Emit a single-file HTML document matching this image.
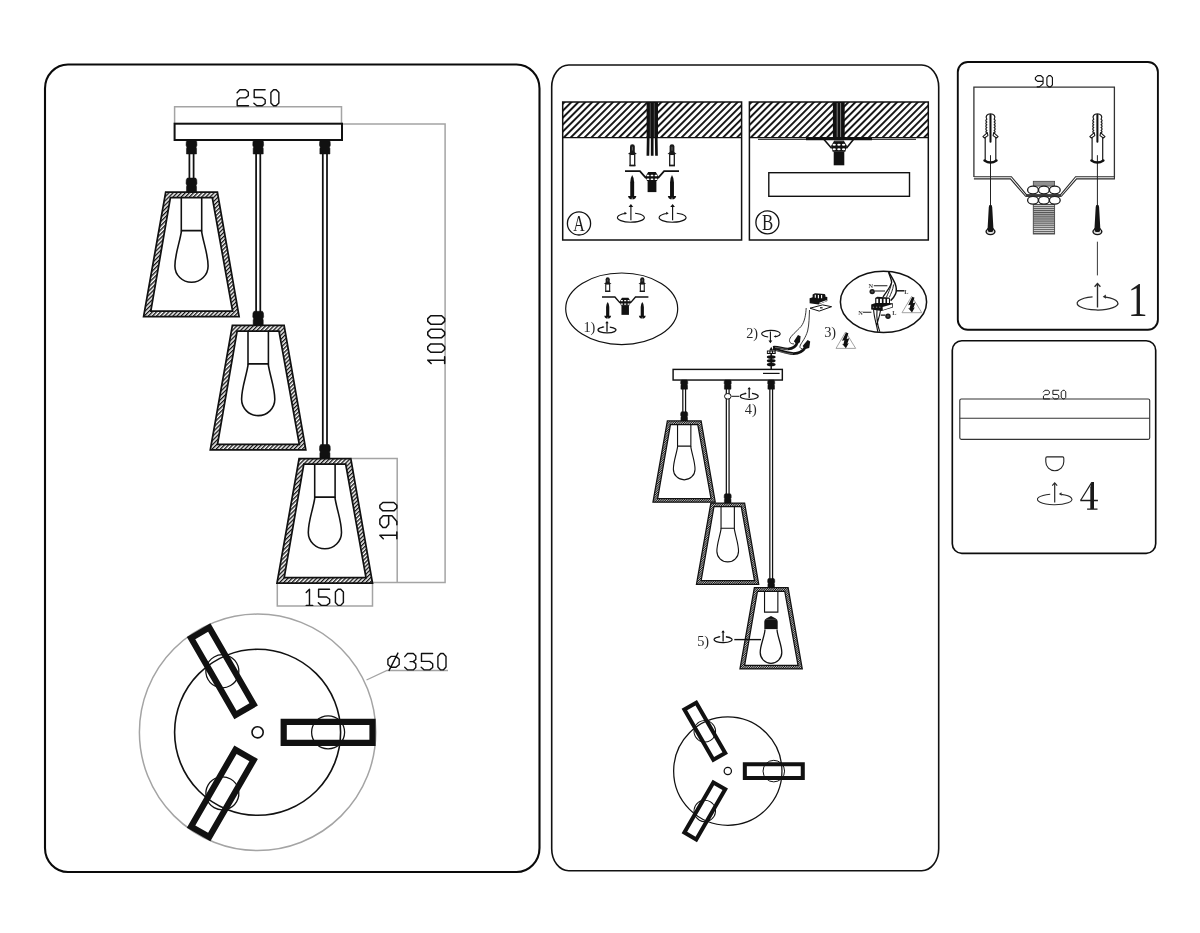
<!DOCTYPE html>
<html><head><meta charset="utf-8"><title>Pendant lamp assembly</title>
<style>
html,body{margin:0;padding:0;background:#fff;}
body{width:1200px;height:933px;overflow:hidden;font-family:"Liberation Sans",sans-serif;}
svg{display:block;will-change:transform;}
.cad{font-family:"Liberation Sans",sans-serif;fill:#111;}
.ser{font-family:"Liberation Serif",serif;fill:#1c1c1c;}
.lb{fill:#2a2a2a;}
</style></head><body>
<svg width="1200" height="933" viewBox="0 0 1200 933">
<defs>
<pattern id="h1" width="2.9" height="2.9" patternUnits="userSpaceOnUse" patternTransform="rotate(-45)"><rect width="2.9" height="2.9" fill="#fff"/><rect width="2.9" height="1.35" fill="#111"/></pattern>
<pattern id="h2" width="1.6" height="1.6" patternUnits="userSpaceOnUse" patternTransform="rotate(-45)"><rect width="1.6" height="1.6" fill="#fff"/><rect width="1.6" height="1.0" fill="#111"/></pattern>
<pattern id="hc" width="4.9" height="4.9" patternUnits="userSpaceOnUse" patternTransform="rotate(-45)"><rect width="4.9" height="4.9" fill="#fff"/><rect width="4.9" height="1.9" fill="#111"/></pattern>
<pattern id="thr" width="2" height="2.08" patternUnits="userSpaceOnUse"><rect width="2" height="2.08" fill="#d4d4d4"/><rect width="2" height="1.15" fill="#555"/></pattern>
</defs>
<rect width="1200" height="933" fill="#fff"/>

<rect x="45" y="64.5" width="494.5" height="807.5" rx="23" ry="24" fill="none" stroke="#0a0a0a" stroke-width="2.1"/>
<rect x="551.7" y="65" width="387.0" height="805.8" rx="17" ry="22" fill="none" stroke="#111" stroke-width="1.6"/>
<rect x="957.8" y="62" width="200.1" height="267.8" rx="10" ry="10" fill="none" stroke="#0c0c0c" stroke-width="1.9"/>
<rect x="952.3" y="340.7" width="203.4" height="212.6" rx="9.5" ry="9.5" fill="none" stroke="#0c0c0c" stroke-width="1.65"/>
<path d="M174.6 124 V106.7 H341.5 V124 M342 124 H445.1 V582.5 H372 M350.5 458.5 H397.2 V582.5 M277.3 583 V606 H372.5 V583" fill="none" stroke="#a4a4a4" stroke-width="1.5"/>
<rect x="174.60" y="123.70" width="167.40" height="16.30" fill="#fff" stroke="#111" stroke-width="2.01"/>
<path d="M187.30 140.00 L195.70 140.00 L196.75 141.68 L196.96 145.32 L196.12 147.28 L196.54 148.40 L196.54 154.00 L186.46 154.00 L186.46 148.40 L186.88 147.28 L186.04 145.32 L186.25 141.68Z" fill="#111" stroke="#111" stroke-width="0.5" stroke-linejoin="round"/>
<path d="M189.40 153.00 V179.00 M193.60 153.00 V179.00" stroke="#111" stroke-width="1.75" fill="none"/>
<path d="M187.30 178.00 L195.70 178.00 L196.75 179.74 L196.96 183.51 L196.12 185.54 L196.54 186.70 L196.54 192.50 L186.46 192.50 L186.46 186.70 L186.88 185.54 L186.04 183.51 L186.25 179.74Z" fill="#111" stroke="#111" stroke-width="0.5" stroke-linejoin="round"/>
<path d="M165.70 192.00 L217.40 192.00 L239.10 316.60 L143.60 316.60Z M170.40 197.70 L212.30 197.70 L232.60 311.10 L150.80 311.10Z" fill="url(#h1)" fill-rule="evenodd" stroke="#111" stroke-width="1.75" stroke-linejoin="miter"/>
<path d="M181.30 197.70 V230.60 H201.70 V197.70" fill="none" stroke="#111" stroke-width="1.57"/>
<path d="M181.50 230.60 C180.00 242.00 174.90 254.00 174.90 266.00 A16.60 16.30 0 0 0 208.10 266.00 C208.10 254.00 203.00 242.00 201.50 230.60" fill="none" stroke="#111" stroke-width="1.57"/>
<path d="M254.00 140.00 L262.40 140.00 L263.45 141.68 L263.66 145.32 L262.82 147.28 L263.24 148.40 L263.24 154.00 L253.16 154.00 L253.16 148.40 L253.58 147.28 L252.74 145.32 L252.95 141.68Z" fill="#111" stroke="#111" stroke-width="0.5" stroke-linejoin="round"/>
<path d="M256.10 153.00 V312.30 M260.30 153.00 V312.30" stroke="#111" stroke-width="1.75" fill="none"/>
<path d="M254.00 311.30 L262.40 311.30 L263.45 313.04 L263.66 316.81 L262.82 318.84 L263.24 320.00 L263.24 325.80 L253.16 325.80 L253.16 320.00 L253.58 318.84 L252.74 316.81 L252.95 313.04Z" fill="#111" stroke="#111" stroke-width="0.5" stroke-linejoin="round"/>
<path d="M232.40 325.30 L284.10 325.30 L305.80 449.90 L210.30 449.90Z M237.10 331.00 L279.00 331.00 L299.30 444.40 L217.50 444.40Z" fill="url(#h1)" fill-rule="evenodd" stroke="#111" stroke-width="1.75" stroke-linejoin="miter"/>
<path d="M248.00 331.00 V363.90 H268.40 V331.00" fill="none" stroke="#111" stroke-width="1.57"/>
<path d="M248.20 363.90 C246.70 375.30 241.60 387.30 241.60 399.30 A16.60 16.30 0 0 0 274.80 399.30 C274.80 387.30 269.70 375.30 268.20 363.90" fill="none" stroke="#111" stroke-width="1.57"/>
<path d="M320.70 140.00 L329.10 140.00 L330.15 141.68 L330.36 145.32 L329.52 147.28 L329.94 148.40 L329.94 154.00 L319.86 154.00 L319.86 148.40 L320.28 147.28 L319.44 145.32 L319.65 141.68Z" fill="#111" stroke="#111" stroke-width="0.5" stroke-linejoin="round"/>
<path d="M322.80 153.00 V445.50 M327.00 153.00 V445.50" stroke="#111" stroke-width="1.75" fill="none"/>
<path d="M320.70 444.50 L329.10 444.50 L330.15 446.24 L330.36 450.01 L329.52 452.04 L329.94 453.20 L329.94 459.00 L319.86 459.00 L319.86 453.20 L320.28 452.04 L319.44 450.01 L319.65 446.24Z" fill="#111" stroke="#111" stroke-width="0.5" stroke-linejoin="round"/>
<path d="M299.10 458.50 L350.80 458.50 L372.50 583.10 L277.00 583.10Z M303.80 464.20 L345.70 464.20 L366.00 577.60 L284.20 577.60Z" fill="url(#h1)" fill-rule="evenodd" stroke="#111" stroke-width="1.75" stroke-linejoin="miter"/>
<path d="M314.70 464.20 V497.10 H335.10 V464.20" fill="none" stroke="#111" stroke-width="1.57"/>
<path d="M314.90 497.10 C313.40 508.50 308.30 520.50 308.30 532.50 A16.60 16.30 0 0 0 341.50 532.50 C341.50 520.50 336.40 508.50 334.90 497.10" fill="none" stroke="#111" stroke-width="1.57"/>
<circle cx="257.60" cy="732.30" r="118.20" fill="none" stroke="#a4a4a4" stroke-width="1.5"/>
<circle cx="257.60" cy="732.30" r="83.00" fill="none" stroke="#111" stroke-width="1.60"/>
<circle cx="257.60" cy="732.30" r="5.60" fill="#fff" stroke="#111" stroke-width="1.60"/>
<g transform="rotate(0 257.60 732.30)">
<circle cx="328.10" cy="732.30" r="16.50" fill="none" stroke="#111" stroke-width="1.28"/>
<path d="M280.60 718.70 H375.60 V745.90 H280.60 Z M286.80 724.90 H369.40 V739.70 H286.80 Z" fill="#111" fill-rule="evenodd"/>
</g>
<g transform="rotate(120 257.60 732.30)">
<circle cx="328.10" cy="732.30" r="16.50" fill="none" stroke="#111" stroke-width="1.28"/>
<path d="M280.60 718.70 H375.60 V745.90 H280.60 Z M286.80 724.90 H369.40 V739.70 H286.80 Z" fill="#111" fill-rule="evenodd"/>
</g>
<g transform="rotate(240 257.60 732.30)">
<circle cx="328.10" cy="732.30" r="16.50" fill="none" stroke="#111" stroke-width="1.28"/>
<path d="M280.60 718.70 H375.60 V745.90 H280.60 Z M286.80 724.90 H369.40 V739.70 H286.80 Z" fill="#111" fill-rule="evenodd"/>
</g>
<path d="M366.5 680 L387 670.5 H448" fill="none" stroke="#a4a4a4" stroke-width="1.3"/>
<path d="M237.10 92.84L239.95 89.70L245.64 89.70L248.29 91.96L248.29 95.69L245.64 97.85L239.95 97.85L237.20 100.50L237.20 105.80L248.49 105.80 M265.09 89.70L254.20 89.70L254.20 97.46L262.25 97.46L265.19 99.71L265.19 103.44L262.25 105.80L256.85 105.80L253.90 103.15 M270.90 92.55L273.55 89.70L276.20 89.70L278.85 92.55L278.85 102.95L276.20 105.80L273.55 105.80L270.90 102.95Z" fill="none" stroke="#111" stroke-width="1.40" stroke-linejoin="round" stroke-linecap="round"/>
<path d="M306.23 592.47L309.47 589.23L309.47 605.38 M306.23 605.38L312.72 605.38 M329.54 589.23L318.61 589.23L318.61 597.00L326.68 597.00L329.64 599.27L329.64 603.01L326.68 605.38L321.26 605.38L318.31 602.72 M335.42 592.08L338.08 589.23L340.74 589.23L343.39 592.08L343.39 602.52L340.74 605.38L338.08 605.38L335.42 602.52Z" fill="none" stroke="#111" stroke-width="1.45" stroke-linejoin="round" stroke-linecap="round"/>
<path d="M431.15 363.55L427.75 360.15L444.65 360.15 M444.65 363.55L444.65 356.75 M430.74 352.25L427.75 349.47L427.75 346.69L430.74 343.90L441.66 343.90L444.65 346.69L444.65 349.47L441.66 352.25Z M430.74 337.65L427.75 334.87L427.75 332.09L430.74 329.30L441.66 329.30L444.65 332.09L444.65 334.87L441.66 337.65Z M430.74 324.15L427.75 321.37L427.75 318.59L430.74 315.80L441.66 315.80L444.65 318.59L444.65 321.37L441.66 324.15Z" fill="none" stroke="#111" stroke-width="1.50" stroke-linejoin="round" stroke-linecap="round"/>
<path d="M383.27 538.75L379.85 535.33L396.85 535.33 M396.85 538.75L396.85 531.91 M388.66 515.84L388.66 524.18L385.86 527.45L382.86 527.45L379.85 524.03L379.85 519.16L383.12 515.84L391.98 515.84L396.85 521.44L396.85 524.75 M382.86 510.85L379.85 508.05L379.85 505.25L382.86 502.45L393.84 502.45L396.85 505.25L396.85 508.05L393.84 510.85Z" fill="none" stroke="#111" stroke-width="1.50" stroke-linejoin="round" stroke-linecap="round"/>
<path d="M387.90 659.20L391.00 656.40L396.00 656.40L399.20 659.20L399.20 664.50L396.00 667.30L391.00 667.30L387.90 664.50Z M389.10 670.40L397.90 653.10 M404.80 656.65L407.60 653.50L413.30 653.50L415.80 656.00L415.80 659.50L413.30 661.65L410.10 661.65 M413.30 661.65L415.80 663.80L415.80 667.60L413.30 669.90L407.60 669.90L404.70 667.30 M432.60 653.50L421.50 653.50L421.50 661.40L429.70 661.40L432.70 663.70L432.70 667.50L429.70 669.90L424.20 669.90L421.20 667.20 M437.90 656.40L440.60 653.50L443.30 653.50L446.00 656.40L446.00 667.00L443.30 669.90L440.60 669.90L437.90 667.00Z" fill="none" stroke="#111" stroke-width="1.40" stroke-linejoin="round" stroke-linecap="round"/>
<rect x="562.7" y="102" width="178.9" height="35.7" fill="url(#hc)"/>
<rect x="562.7" y="102" width="178.9" height="138" fill="none" stroke="#111" stroke-width="1.5"/>
<path d="M562.7 137.7 h178.9" stroke="#111" stroke-width="1.3"/>
<rect x="749.4" y="102" width="178.9" height="35.7" fill="url(#hc)"/>
<rect x="749.4" y="102" width="178.9" height="138" fill="none" stroke="#111" stroke-width="1.5"/>
<path d="M749.4 137.7 h178.9" stroke="#111" stroke-width="1.3"/>
<rect x="646.6" y="102" width="11.4" height="36" fill="#111"/>
<path d="M648.2 137 L647.9 155.8 M652.2 137 V155.8 M656.2 137 L656.5 155.8" stroke="#111" stroke-width="2.7" fill="none"/>
<path d="M650.3 103 V137 M654.3 103 V137" stroke="#777" stroke-width="0.6"/>
<path d="M630.00 153.94 V146.46 Q630.00 144.30 632.40 144.30 Q634.80 144.30 634.80 146.46 V153.94 Z" fill="#1a1a1a"/>
<path d="M632.40 146.70 V153.50" stroke="#888" stroke-width="0.70"/>
<path d="M632.40 150.21 L627.90 153.94 L632.40 154.59 L636.90 153.94 Z" fill="#1a1a1a"/>
<rect x="630.10" y="154.37" width="4.60" height="11.03" fill="#fff" stroke="#1a1a1a" stroke-width="1.30"/>
<path d="M629.40 165.60 H635.40" stroke="#1a1a1a" stroke-width="1.50"/>
<path d="M669.60 153.94 V146.46 Q669.60 144.30 672.00 144.30 Q674.40 144.30 674.40 146.46 V153.94 Z" fill="#1a1a1a"/>
<path d="M672.00 146.70 V153.50" stroke="#888" stroke-width="0.70"/>
<path d="M672.00 150.21 L667.50 153.94 L672.00 154.59 L676.50 153.94 Z" fill="#1a1a1a"/>
<rect x="669.70" y="154.37" width="4.60" height="11.03" fill="#fff" stroke="#1a1a1a" stroke-width="1.30"/>
<path d="M669.00 165.60 H675.00" stroke="#1a1a1a" stroke-width="1.50"/>
<path d="M625.00 171.10 H639.90 L645.60 177.70 H658.40 L664.10 171.10 H679.00" fill="none" stroke="#111" stroke-width="1.80"/>
<path d="M645.30 176.70 L648.20 171.90 H655.80 L658.70 176.70 L657.00 181.10 H647.00 Z" fill="#111"/>
<rect x="646.70" y="174.70" width="2.60" height="1.50" rx="0.50" fill="#fff"/>
<rect x="650.70" y="174.70" width="2.60" height="1.50" rx="0.50" fill="#fff"/>
<rect x="654.70" y="174.70" width="2.60" height="1.50" rx="0.50" fill="#fff"/>
<rect x="646.70" y="178.60" width="2.60" height="1.50" rx="0.50" fill="#fff"/>
<rect x="650.70" y="178.60" width="2.60" height="1.50" rx="0.50" fill="#fff"/>
<rect x="654.70" y="178.60" width="2.60" height="1.50" rx="0.50" fill="#fff"/>
<rect x="647.60" y="180.70" width="8.80" height="11.40" fill="#111"/>
<path d="M632.20 175.10 Q634.15 178.00 634.15 182.36 V196.30 H630.25 V182.36 Q630.25 178.00 632.20 175.10 Z" fill="#111"/>
<path d="M628.00 195.90 h8.40 q-0.40 2.60 -2.40 3.40 h-3.60 q-2.00 -0.80 -2.40 -3.40 z" fill="#111"/>
<path d="M632.20 197.70 v1.60" stroke="#fff" stroke-width="0.60"/>
<path d="M672.00 175.10 Q673.95 178.00 673.95 182.36 V196.30 H670.05 V182.36 Q670.05 178.00 672.00 175.10 Z" fill="#111"/>
<path d="M667.80 195.90 h8.40 q-0.40 2.60 -2.40 3.40 h-3.60 q-2.00 -0.80 -2.40 -3.40 z" fill="#111"/>
<path d="M672.00 197.70 v1.60" stroke="#fff" stroke-width="0.60"/>
<path d="M635.07 213.23 A13.50 4.60 0 1 1 624.98 213.47" fill="none" stroke="#111" stroke-width="1.15"/>
<path d="M627.01 213.26 l-2.63 -1.52 l0.30 2.94 z" fill="#111"/>
<path d="M630.90 220.36 V205.22" stroke="#111" stroke-width="1.15"/>
<path d="M630.90 204.00 l-2.33 3.04 h4.66 z" fill="#111"/>
<path d="M676.77 213.23 A13.50 4.60 0 1 1 666.68 213.47" fill="none" stroke="#111" stroke-width="1.15"/>
<path d="M668.71 213.26 l-2.63 -1.52 l0.30 2.94 z" fill="#111"/>
<path d="M672.60 220.36 V205.22" stroke="#111" stroke-width="1.15"/>
<path d="M672.60 204.00 l-2.33 3.04 h4.66 z" fill="#111"/>
<circle cx="579" cy="223.4" r="11.6" fill="none" stroke="#111" stroke-width="1.3"/>
<text class="ser" x="579" y="231.2" font-size="23.4" text-anchor="middle" transform="translate(579 0) scale(0.68 1) translate(-579 0)">A</text>
<rect x="832.9" y="102" width="11.8" height="36.5" fill="#111"/>
<path d="M837.2 103 V137 M840.6 103 V137" stroke="#999" stroke-width="0.8"/>
<path d="M758 139.3 H916" stroke="#111" stroke-width="1"/>
<path d="M806 139.2 H872" stroke="#111" stroke-width="2.2"/>
<path d="M824 139.5 L831.6 148.3 M853.4 139.5 L846.4 148.3" fill="none" stroke="#111" stroke-width="1.6"/>
<path d="M831 146 L834.3 140.4 H843.7 L847 146 L845.3 151.8 H832.7 Z" fill="#111"/>
<path d="M834.5 140.9 H843.5" stroke="#999" stroke-width="0.6"/>
<ellipse cx="834.20" cy="144.70" rx="1.7" ry="0.95" fill="#fff"/>
<ellipse cx="838.90" cy="144.70" rx="1.7" ry="0.95" fill="#fff"/>
<ellipse cx="843.60" cy="144.70" rx="1.7" ry="0.95" fill="#fff"/>
<ellipse cx="834.20" cy="149.30" rx="1.7" ry="0.95" fill="#fff"/>
<ellipse cx="838.90" cy="149.30" rx="1.7" ry="0.95" fill="#fff"/>
<ellipse cx="843.60" cy="149.30" rx="1.7" ry="0.95" fill="#fff"/>
<rect x="833.7" y="151.5" width="10.6" height="13.8" fill="#111"/>
<rect x="768.8" y="172.7" width="140.7" height="23.6" fill="#fff" stroke="#111" stroke-width="1.4"/>
<circle cx="767.4" cy="222.4" r="11.5" fill="none" stroke="#111" stroke-width="1.3"/>
<text class="ser" x="767.6" y="230.3" font-size="23.4" text-anchor="middle" transform="translate(767.6 0) scale(0.72 1) translate(-767.6 0)">B</text>
<ellipse cx="621.7" cy="308.8" rx="56" ry="35.8" fill="none" stroke="#111" stroke-width="1.2"/>
<path d="M605.66 283.72 V279.14 Q605.66 277.30 607.70 277.30 Q609.74 277.30 609.74 279.14 V283.72 Z" fill="#1a1a1a"/>
<path d="M607.70 279.34 V283.43" stroke="#888" stroke-width="0.59"/>
<path d="M607.70 281.24 L603.88 283.72 L607.70 284.16 L611.53 283.72 Z" fill="#1a1a1a"/>
<rect x="605.75" y="284.02" width="3.91" height="7.20" fill="#fff" stroke="#1a1a1a" stroke-width="1.10"/>
<path d="M605.15 291.39 H610.25" stroke="#1a1a1a" stroke-width="1.27"/>
<path d="M640.26 283.72 V279.14 Q640.26 277.30 642.30 277.30 Q644.34 277.30 644.34 279.14 V283.72 Z" fill="#1a1a1a"/>
<path d="M642.30 279.34 V283.43" stroke="#888" stroke-width="0.59"/>
<path d="M642.30 281.24 L638.47 283.72 L642.30 284.16 L646.12 283.72 Z" fill="#1a1a1a"/>
<rect x="640.34" y="284.02" width="3.91" height="7.20" fill="#fff" stroke="#1a1a1a" stroke-width="1.10"/>
<path d="M639.75 291.39 H644.85" stroke="#1a1a1a" stroke-width="1.27"/>
<path d="M602.00 297.00 H614.92 L619.76 302.61 H630.64 L635.49 297.00 H648.40" fill="none" stroke="#111" stroke-width="1.40"/>
<path d="M619.50 301.76 L621.97 297.68 H628.43 L630.90 301.76 L629.45 305.50 H620.95 Z" fill="#111"/>
<rect x="620.70" y="300.06" width="2.21" height="1.27" rx="0.42" fill="#fff"/>
<rect x="624.10" y="300.06" width="2.21" height="1.27" rx="0.42" fill="#fff"/>
<rect x="627.50" y="300.06" width="2.21" height="1.27" rx="0.42" fill="#fff"/>
<rect x="620.70" y="303.38" width="2.21" height="1.27" rx="0.42" fill="#fff"/>
<rect x="624.10" y="303.38" width="2.21" height="1.27" rx="0.42" fill="#fff"/>
<rect x="627.50" y="303.38" width="2.21" height="1.27" rx="0.42" fill="#fff"/>
<rect x="621.46" y="305.16" width="7.48" height="9.69" fill="#111"/>
<path d="M607.70 302.00 Q609.30 303.99 609.30 306.98 V316.14 H606.10 V306.98 Q606.10 303.99 607.70 302.00 Z" fill="#111"/>
<path d="M604.26 315.81 h6.89 q-0.33 2.13 -1.97 2.79 h-2.95 q-1.64 -0.66 -1.97 -2.79 z" fill="#111"/>
<path d="M607.70 317.29 v1.31" stroke="#fff" stroke-width="0.49"/>
<path d="M642.30 302.00 Q643.90 303.99 643.90 306.98 V316.14 H640.70 V306.98 Q640.70 303.99 642.30 302.00 Z" fill="#111"/>
<path d="M638.86 315.81 h6.89 q-0.33 2.13 -1.97 2.79 h-2.95 q-1.64 -0.66 -1.97 -2.79 z" fill="#111"/>
<path d="M642.30 317.29 v1.31" stroke="#fff" stroke-width="0.49"/>
<text class="ser lb" x="583.4" y="331.6" font-size="14.3">1)</text>
<path d="M609.78 327.05 A9.00 3.00 0 1 1 603.05 327.20" fill="none" stroke="#111" stroke-width="1.30"/>
<path d="M604.55 327.05 l-1.95 -1.12 l0.22 2.17 z" fill="#111"/>
<path d="M607.00 331.70 V321.90" stroke="#111" stroke-width="1.30"/>
<path d="M607.00 321.00 l-1.72 2.25 h3.45 z" fill="#111"/>
<text class="ser lb" x="746.2" y="338" font-size="14.3">2)</text>
<path d="M768.2 337 A9.2 3.4 0 1 1 775 336.8" fill="none" stroke="#111" stroke-width="1.1"/>
<path d="M773.6 336.6 l2.3 -1.3 l-0.1 2.3 z" fill="#111"/>
<path d="M770.4 331.5 V341" stroke="#111" stroke-width="1.1"/>
<path d="M770.4 343.2 l-1.9 -2.6 h3.8 z" fill="#111"/>
<path d="M771.2 346.8 l-2 3.8 h4 z" fill="#111"/>
<rect x="766.9" y="350.5" width="8.8" height="3.5" fill="#111"/>
<rect x="767.85" y="351.5" width="1.5" height="1.4" fill="#fff"/>
<rect x="770.45" y="351.5" width="1.5" height="1.4" fill="#fff"/>
<rect x="773.05" y="351.5" width="1.5" height="1.4" fill="#fff"/>
<ellipse cx="771.2" cy="356.90" rx="4.4" ry="1.75" fill="#111"/>
<ellipse cx="771.2" cy="360.80" rx="4.4" ry="1.75" fill="#111"/>
<ellipse cx="771.2" cy="364.60" rx="4.4" ry="1.75" fill="#111"/>
<path d="M771.2 354 V376" stroke="#111" stroke-width="1.5"/>
<path d="M773 347.2 C778 346.4 783 349.2 788 349 C793 348.8 796.5 345.5 797.8 341.5" fill="none" stroke="#111" stroke-width="2.6"/>
<path d="M773 348.6 C780 350.5 786 353.4 793.6 353.6 C799 353.6 803.5 350.5 806 346.5" fill="none" stroke="#111" stroke-width="2.8"/>
<path d="M775 347.4 C779 347 783 349.6 788 349.4" fill="none" stroke="#aaa" stroke-width="0.5"/>
<path d="M776 350.2 C782 352.2 787 353.6 793 353.8" fill="none" stroke="#aaa" stroke-width="0.5"/>
<path d="M793.9 341.2 L798 335.1 L800.6 336.2 L800 342.2 L796.4 344.2 Z" fill="#111"/>
<path d="M802.6 346 L807.6 339.9 L810.2 341.5 L809.2 347.9 L805.2 348.9 Z" fill="#111"/>
<path d="M794 343.9 C790.5 344 789 342 789.6 339.4 C790.5 336 797 331 801 326.5 C805 321.5 805.8 314 806.2 308" fill="none" stroke="#222" stroke-width="0.9"/>
<path d="M802.5 349 C800 348.6 799.4 347 800.4 345 C802 342 805.5 338 807.6 331 C809.2 325 809.2 316 809.5 310" fill="none" stroke="#222" stroke-width="0.9"/>
<path d="M809.6 298.2 L818.5 295.6 L827.3 297 V301 L818.5 304.4 L809.6 303.2 Z" fill="#111"/>
<path d="M812.6 298 V294.4 L815 293.2 L824.6 294 L825.4 295 V298.6 L818 300 Z" fill="#111"/>
<path d="M815.3 294.8 v3 M818.4 294.9 v3.3 M821.6 295 v3.3" stroke="#fff" stroke-width="1.1"/>
<path d="M819.4 303.2 L826.6 300.6" stroke="#fff" stroke-width="1"/>
<path d="M810 308.2 L822.6 304.9 L831.6 306.7 L819.2 311.1 Z" fill="#fff" stroke="#111" stroke-width="1"/>
<rect x="820" y="307.2" width="2.6" height="1.2" fill="#111"/>
<text class="ser lb" x="824.2" y="336.9" font-size="14.3">3)</text>
<path d="M845.60 332.00 L855.70 348.40 H836.00 Z" fill="#fff" stroke="#999" stroke-width="0.9"/>
<path d="M846.00 332.60 L842.02 340.85 L844.41 340.35 L843.41 344.13 L842.02 343.73 L845.90 348.30 L848.78 342.93 L847.29 343.83 L849.28 338.26 L846.69 338.96 L848.38 333.19Z" fill="#111"/>
<ellipse cx="883.5" cy="301.9" rx="43.1" ry="30.6" fill="none" stroke="#111" stroke-width="1.5"/>
<path d="M911.70 296.30 L921.80 312.70 H902.00 Z" fill="#fff" stroke="#999" stroke-width="0.9"/>
<path d="M912.10 296.90 L908.12 305.15 L910.51 304.65 L909.51 308.43 L908.12 308.03 L912.00 312.60 L914.88 307.23 L913.39 308.13 L915.38 302.56 L912.79 303.26 L914.48 297.49Z" fill="#111"/>
<path d="M888.8 272.2 C893 279 898.5 287 895.5 294 C894 297.5 892 299.5 890.6 300.6" fill="none" stroke="#111" stroke-width="1.5"/>
<path d="M888.6 272.2 C889.5 276 892 280 891.6 282.6 C890 288 885.6 292.6 883 297" fill="none" stroke="#111" stroke-width="1.3"/>
<path d="M891.6 282.6 C890.6 289 888 293 886.4 297.4 M893.6 284.5 C893 290 890.6 294 889.4 297.4" fill="none" stroke="#111" stroke-width="0.9"/>
<path d="M873.6 309.5 C874 318 876.6 324 877.8 331.8 M877 310 C876.4 318 877 324 879.8 331.6 M880.6 310 C879.6 317 877.4 322 876.4 326" fill="none" stroke="#111" stroke-width="1.1"/>
<path d="M871.2 304.6 L877 302.6 L892.9 303.2 V307.6 L881.5 311 L871.2 309.6 Z" fill="#111"/>
<path d="M882.6 307 L892.2 304.2 V306.9 L882.8 309.9 Z" fill="#fff"/>
<path d="M875.2 303.8 V298 L877.2 296.7 L888.6 297.5 L890 298.6 V303.8 L882 305.2 Z" fill="#111"/>
<rect x="876.35" y="298.8" width="1.9" height="4.2" fill="#fff"/>
<rect x="879.95" y="298.8" width="1.9" height="4.2" fill="#fff"/>
<rect x="883.55" y="298.8" width="1.9" height="4.2" fill="#fff"/>
<rect x="887.05" y="298.8" width="1.9" height="4.2" fill="#fff"/>
<circle cx="873.40" cy="307.2" r="0.8" fill="#777"/>
<circle cx="876.60" cy="307.2" r="0.8" fill="#777"/>
<circle cx="879.80" cy="307.2" r="0.8" fill="#777"/>
<circle cx="872.2" cy="291.6" r="2.7" fill="#1a1a1a"/><circle cx="888" cy="316.2" r="2.7" fill="#1a1a1a"/>
<path d="M871 291.6 h2.4 M872.2 290.4 v2.4 M886.8 316.2 h2.4 M888 315 v2.4" stroke="#777" stroke-width="0.5"/>
<path d="M873.8 285.7 H887.4 M875 291 H885" stroke="#1a1a1a" stroke-width="1.1"/>
<path d="M896.8 290.8 H904.4" stroke="#1a1a1a" stroke-width="1.5"/>
<path d="M863 312.3 H871.4 M880.8 315.1 H885.4" stroke="#1a1a1a" stroke-width="1.1"/>
<text class="ser" x="868.6" y="288.2" font-size="6.3" font-weight="bold" style="fill:#444">N</text>
<text class="ser" x="904.2" y="294.2" font-size="6.3" font-weight="bold" style="fill:#444">L</text>
<text class="ser" x="858.2" y="314.8" font-size="6.3" font-weight="bold" style="fill:#444">N</text>
<text class="ser" x="892.2" y="315" font-size="6.3" font-weight="bold" style="fill:#444">L</text>
<rect x="673.10" y="369.40" width="109.23" height="10.64" fill="#fff" stroke="#111" stroke-width="1.44"/>
<path d="M681.46 380.04 L686.94 380.04 L687.63 381.13 L687.76 383.51 L687.21 384.79 L687.49 385.52 L687.49 389.17 L680.91 389.17 L680.91 385.52 L681.19 384.79 L680.64 383.51 L680.77 381.13Z" fill="#111" stroke="#111" stroke-width="0.5" stroke-linejoin="round"/>
<path d="M682.83 388.52 V412.42 M685.57 388.52 V412.42" stroke="#111" stroke-width="1.25" fill="none"/>
<path d="M681.46 411.76 L686.94 411.76 L687.63 412.90 L687.76 415.36 L687.21 416.68 L687.49 417.44 L687.49 421.23 L680.91 421.23 L680.91 417.44 L681.19 416.68 L680.64 415.36 L680.77 412.90Z" fill="#111" stroke="#111" stroke-width="0.5" stroke-linejoin="round"/>
<path d="M667.37 420.90 L701.10 420.90 L715.26 502.20 L652.95 502.20Z M670.43 424.62 L697.77 424.62 L711.02 498.61 L657.64 498.61Z" fill="url(#h2)" fill-rule="evenodd" stroke="#111" stroke-width="1.25" stroke-linejoin="miter"/>
<path d="M677.54 424.62 V446.09 H690.86 V424.62" fill="none" stroke="#111" stroke-width="1.12"/>
<path d="M677.68 446.09 C676.70 453.52 673.37 461.35 673.37 469.18 A10.83 10.64 0 0 0 695.03 469.18 C695.03 461.35 691.70 453.52 690.73 446.09" fill="none" stroke="#111" stroke-width="1.12"/>
<path d="M724.96 380.04 L730.44 380.04 L731.13 381.13 L731.26 383.51 L730.71 384.79 L730.99 385.52 L730.99 389.17 L724.41 389.17 L724.41 385.52 L724.69 384.79 L724.14 383.51 L724.27 381.13Z" fill="#111" stroke="#111" stroke-width="0.5" stroke-linejoin="round"/>
<path d="M726.33 388.52 V494.52 M729.07 388.52 V494.52" stroke="#111" stroke-width="1.25" fill="none"/>
<path d="M724.96 493.87 L730.44 493.87 L731.13 495.00 L731.26 497.46 L730.71 498.78 L730.99 499.54 L730.99 503.33 L724.41 503.33 L724.41 499.54 L724.69 498.78 L724.14 497.46 L724.27 495.00Z" fill="#111" stroke="#111" stroke-width="0.5" stroke-linejoin="round"/>
<path d="M710.87 503.00 L744.60 503.00 L758.76 584.30 L696.45 584.30Z M713.93 506.72 L741.27 506.72 L754.52 580.71 L701.14 580.71Z" fill="url(#h2)" fill-rule="evenodd" stroke="#111" stroke-width="1.25" stroke-linejoin="miter"/>
<path d="M721.04 506.72 V528.19 H734.36 V506.72" fill="none" stroke="#111" stroke-width="1.12"/>
<path d="M721.18 528.19 C720.20 535.62 716.87 543.46 716.87 551.28 A10.83 10.64 0 0 0 738.53 551.28 C738.53 543.46 735.20 535.62 734.23 528.19" fill="none" stroke="#111" stroke-width="1.12"/>
<path d="M768.46 380.04 L773.94 380.04 L774.63 381.13 L774.76 383.51 L774.21 384.79 L774.49 385.52 L774.49 389.17 L767.91 389.17 L767.91 385.52 L768.19 384.79 L767.64 383.51 L767.77 381.13Z" fill="#111" stroke="#111" stroke-width="0.5" stroke-linejoin="round"/>
<path d="M769.83 388.52 V579.12 M772.57 388.52 V579.12" stroke="#111" stroke-width="1.25" fill="none"/>
<path d="M768.46 578.47 L773.94 578.47 L774.63 579.60 L774.76 582.06 L774.21 583.38 L774.49 584.14 L774.49 587.93 L767.91 587.93 L767.91 584.14 L768.19 583.38 L767.64 582.06 L767.77 579.60Z" fill="#111" stroke="#111" stroke-width="0.5" stroke-linejoin="round"/>
<path d="M754.37 587.60 L788.10 587.60 L802.26 668.90 L739.95 668.90Z M757.43 591.32 L784.77 591.32 L798.02 665.31 L744.64 665.31Z" fill="url(#h2)" fill-rule="evenodd" stroke="#111" stroke-width="1.25" stroke-linejoin="miter"/>
<path d="M764.54 591.32 V612.07 H777.86 V591.32" fill="none" stroke="#111" stroke-width="1.12"/>
<path d="M763 373.4 H779.6" stroke="#111" stroke-width="1.2"/>
<ellipse cx="727.8" cy="396.3" rx="3.3" ry="2.8" fill="#fff" stroke="#111" stroke-width="1"/>
<path d="M731.6 396.3 H739" stroke="#111" stroke-width="1"/>
<path d="M751.98 393.45 A9.00 3.00 0 1 1 745.25 393.60" fill="none" stroke="#111" stroke-width="1.25"/>
<path d="M746.75 393.45 l-1.95 -1.12 l0.22 2.17 z" fill="#111"/>
<path d="M749.20 398.10 V388.00" stroke="#111" stroke-width="1.25"/>
<path d="M749.20 387.10 l-1.72 2.25 h3.45 z" fill="#111"/>
<text class="ser lb" x="744.8" y="414.4" font-size="14.3">4)</text>
<text class="ser lb" x="697.2" y="645.6" font-size="14.3">5)</text>
<path d="M725.88 636.75 A9.00 3.00 0 1 1 719.15 636.90" fill="none" stroke="#111" stroke-width="1.30"/>
<path d="M720.65 636.75 l-1.95 -1.12 l0.22 2.17 z" fill="#111"/>
<path d="M723.10 641.40 V631.10" stroke="#111" stroke-width="1.30"/>
<path d="M723.10 630.20 l-1.72 2.25 h3.45 z" fill="#111"/>
<path d="M734.3 639.6 H761" stroke="#111" stroke-width="1.4"/>
<path d="M764.3 629.2 V621.6 Q764.3 619.4 766.6 618.3 L771 615.9 L775.4 618.3 Q777.7 619.4 777.7 621.6 V629.2 Z" fill="#111"/>
<path d="M766 619.3 H776" stroke="#777" stroke-width="0.5"/>
<path d="M765 629.5 C764.5 637 760.2 645 760.2 652.5 A10.8 10.8 0 0 0 781.8 652.5 C781.8 645 777.5 637 777 629.5" fill="#fff" stroke="#111" stroke-width="1.3"/>
<circle cx="727.80" cy="771.10" r="54.16" fill="none" stroke="#111" stroke-width="1.25"/>
<circle cx="727.80" cy="771.10" r="3.65" fill="#fff" stroke="#111" stroke-width="1.25"/>
<g transform="rotate(0 727.80 771.10)">
<circle cx="773.80" cy="771.10" r="10.77" fill="none" stroke="#111" stroke-width="1.00"/>
<path d="M742.81 762.23 H804.79 V779.97 H742.81 Z M746.85 766.27 H800.75 V775.93 H746.85 Z" fill="#111" fill-rule="evenodd"/>
</g>
<g transform="rotate(120 727.80 771.10)">
<circle cx="773.80" cy="771.10" r="10.77" fill="none" stroke="#111" stroke-width="1.00"/>
<path d="M742.81 762.23 H804.79 V779.97 H742.81 Z M746.85 766.27 H800.75 V775.93 H746.85 Z" fill="#111" fill-rule="evenodd"/>
</g>
<g transform="rotate(240 727.80 771.10)">
<circle cx="773.80" cy="771.10" r="10.77" fill="none" stroke="#111" stroke-width="1.00"/>
<path d="M742.81 762.23 H804.79 V779.97 H742.81 Z M746.85 766.27 H800.75 V775.93 H746.85 Z" fill="#111" fill-rule="evenodd"/>
</g>
<path d="M973.9 177 V87.2 H1114.4 V177" fill="none" stroke="#333" stroke-width="1.3"/>
<path d="M1043.06 81.41L1037.54 81.41L1035.38 79.55L1035.38 77.56L1037.64 75.58L1040.86 75.58L1043.06 77.74L1043.06 83.60L1039.35 86.83L1037.16 86.83 M1046.88 77.56L1048.73 75.58L1050.58 75.58L1052.43 77.56L1052.43 84.84L1050.58 86.83L1048.73 86.83L1046.88 84.84Z" fill="none" stroke="#111" stroke-width="1.15" stroke-linejoin="round" stroke-linecap="round"/>
<path d="M973.9 176.7 H1011.4 L1026.6 194.9 H1060.4 L1075.6 176.7 H1114.4 V178.9 H1076.6 L1061.4 196.3 H1025.6 L1010.4 178.9 H973.9" fill="#fff" stroke="#2a2a2a" stroke-width="1.1" stroke-linejoin="miter"/>
<path d="M990.50 155.2 V206" stroke="#222" stroke-width="1"/>
<path d="M987.10 133.2 Q984.90 131.80 986.80 130.40 Q984.90 129.00 986.80 127.60 Q984.90 126.20 986.80 124.80 Q984.90 123.40 986.80 122.00 Q984.90 120.60 986.80 119.20 C984.90 116 987.30 113.9 990.50 113.9 C993.70 113.9 996.10 116 994.20 119.2 Q996.10 120.60 994.20 122.00 Q996.10 123.40 994.20 124.80 Q996.10 126.20 994.20 127.60 Q996.10 129.00 994.20 130.40 Q996.10 131.80 993.90 133.20 " fill="#fff" stroke="#1a1a1a" stroke-width="1.25" stroke-linejoin="round"/>
<path d="M990.50 115 V141.8" stroke="#111" stroke-width="2" stroke-linecap="round"/>
<path d="M987.30 132.6 L982.90 136.6 L984.50 138 L987.90 135.6 Z M993.70 132.6 L998.10 136.6 L996.50 138 L993.10 135.6 Z" fill="#fff" stroke="#1a1a1a" stroke-width="1.1" stroke-linejoin="round"/>
<path d="M985.20 137.6 V161 M995.80 137.6 V161" stroke="#1a1a1a" stroke-width="1.2"/>
<path d="M984.50 160.4 Q990.50 164.6 996.50 160.4" fill="none" stroke="#111" stroke-width="2.4" stroke-linecap="round"/>
<path d="M990.50 204.8 Q992.10 204.8 992.20 207 L993.50 230 H987.50 L988.80 207 Q988.90 204.8 990.50 204.8 Z" fill="#151515"/>
<ellipse cx="990.50" cy="231.6" rx="4.4" ry="3.0" fill="#ddd" stroke="#151515" stroke-width="1.4"/>
<path d="M987.10 228.2 h6.8 l-1.0 3.2 q-2.4 1 -4.8 0 z" fill="#151515"/>
<path d="M1097.40 155.2 V206" stroke="#222" stroke-width="1"/>
<path d="M1094.00 133.2 Q1091.80 131.80 1093.70 130.40 Q1091.80 129.00 1093.70 127.60 Q1091.80 126.20 1093.70 124.80 Q1091.80 123.40 1093.70 122.00 Q1091.80 120.60 1093.70 119.20 C1091.80 116 1094.20 113.9 1097.40 113.9 C1100.60 113.9 1103.00 116 1101.10 119.2 Q1103.00 120.60 1101.10 122.00 Q1103.00 123.40 1101.10 124.80 Q1103.00 126.20 1101.10 127.60 Q1103.00 129.00 1101.10 130.40 Q1103.00 131.80 1100.80 133.20 " fill="#fff" stroke="#1a1a1a" stroke-width="1.25" stroke-linejoin="round"/>
<path d="M1097.40 115 V141.8" stroke="#111" stroke-width="2" stroke-linecap="round"/>
<path d="M1094.20 132.6 L1089.80 136.6 L1091.40 138 L1094.80 135.6 Z M1100.60 132.6 L1105.00 136.6 L1103.40 138 L1100.00 135.6 Z" fill="#fff" stroke="#1a1a1a" stroke-width="1.1" stroke-linejoin="round"/>
<path d="M1092.10 137.6 V161 M1102.70 137.6 V161" stroke="#1a1a1a" stroke-width="1.2"/>
<path d="M1091.40 160.4 Q1097.40 164.6 1103.40 160.4" fill="none" stroke="#111" stroke-width="2.4" stroke-linecap="round"/>
<path d="M1097.40 204.8 Q1099.00 204.8 1099.10 207 L1100.40 230 H1094.40 L1095.70 207 Q1095.80 204.8 1097.40 204.8 Z" fill="#151515"/>
<ellipse cx="1097.40" cy="231.6" rx="4.4" ry="3.0" fill="#ddd" stroke="#151515" stroke-width="1.4"/>
<path d="M1094.00 228.2 h6.8 l-1.0 3.2 q-2.4 1 -4.8 0 z" fill="#151515"/>
<rect x="1033.3" y="181.3" width="21.3" height="4.8" fill="#909090" stroke="#444" stroke-width="0.8"/>
<rect x="1033.3" y="204.5" width="21.3" height="29.5" fill="url(#thr)" stroke="#444" stroke-width="0.9"/>
<ellipse cx="1033.00" cy="190.00" rx="5.4" ry="3.9" fill="#fff" stroke="#1a1a1a" stroke-width="1.3"/>
<ellipse cx="1043.90" cy="190.00" rx="5.4" ry="3.9" fill="#fff" stroke="#1a1a1a" stroke-width="1.3"/>
<ellipse cx="1054.80" cy="190.00" rx="5.4" ry="3.9" fill="#fff" stroke="#1a1a1a" stroke-width="1.3"/>
<ellipse cx="1033.00" cy="200.30" rx="5.4" ry="3.9" fill="#fff" stroke="#1a1a1a" stroke-width="1.3"/>
<ellipse cx="1043.90" cy="200.30" rx="5.4" ry="3.9" fill="#fff" stroke="#1a1a1a" stroke-width="1.3"/>
<ellipse cx="1054.80" cy="200.30" rx="5.4" ry="3.9" fill="#fff" stroke="#1a1a1a" stroke-width="1.3"/>
<path d="M1026 195.1 H1061 M1026 196.2 H1061" stroke="#2a2a2a" stroke-width="0.9"/>
<path d="M1097.4 241.7 V275.4" stroke="#222" stroke-width="0.9"/>
<path d="M1105.47 297.13 A20.40 6.70 0 1 1 1092.56 296.80" fill="none" stroke="#2a2a2a" stroke-width="1.25"/>
<path d="M1102.72 296.67 l3.06 -2.14 l0.31 4.28 z" fill="#2a2a2a"/>
<path d="M1097.50 307.50 V283.70" stroke="#2a2a2a" stroke-width="1.38"/>
<path d="M1094.59 286.76 L1097.50 283.50 L1100.41 286.76" fill="none" stroke="#2a2a2a" stroke-width="1.31" stroke-linejoin="miter"/>
<text class="ser" x="1137.6" y="315.6" font-size="48" text-anchor="middle" transform="translate(1137.6 0) scale(0.83 1) translate(-1137.6 0)">1</text>
<rect x="959.8" y="399" width="189.9" height="40.3" rx="1.5" fill="none" stroke="#333" stroke-width="1.15"/>
<path d="M959.8 418.2 H1149.7" stroke="#333" stroke-width="1.15"/>
<path d="M1043.38 391.96L1044.90 390.28L1047.96 390.28L1049.39 391.49L1049.39 393.49L1047.96 394.65L1044.90 394.65L1043.43 396.08L1043.43 398.93L1049.49 398.93 M1058.74 390.28L1052.88 390.28L1052.88 394.44L1057.21 394.44L1058.79 395.65L1058.79 397.66L1057.21 398.93L1054.30 398.93L1052.72 397.50 M1061.48 391.80L1062.90 390.28L1064.32 390.28L1065.75 391.80L1065.75 397.40L1064.32 398.93L1062.90 398.93L1061.48 397.40Z" fill="none" stroke="#111" stroke-width="0.95" stroke-linejoin="round" stroke-linecap="round"/>
<path d="M1047 456.9 H1062.6 Q1063.8 456.9 1063.8 458.2 V461.8 A9 8.9 0 0 1 1045.8 461.8 V458.2 Q1045.8 456.9 1047 456.9 Z" fill="none" stroke="#222" stroke-width="1.1"/>
<path d="M1061.18 494.39 A17.30 5.40 0 1 1 1050.22 494.18" fill="none" stroke="#2a2a2a" stroke-width="1.10"/>
<path d="M1058.85 494.00 l2.60 -1.82 l0.26 3.63 z" fill="#2a2a2a"/>
<path d="M1054.70 502.50 V483.00" stroke="#2a2a2a" stroke-width="1.21"/>
<path d="M1052.23 485.60 L1054.70 482.80 L1057.17 485.60" fill="none" stroke="#2a2a2a" stroke-width="1.16" stroke-linejoin="miter"/>
<path d="M1094 482 V509 H1090.3 V487.2 L1091.6 482 Z" fill="#1a1a1a"/>
<path d="M1091.8 482.4 L1080.7 500.3" stroke="#1a1a1a" stroke-width="1.2" fill="none"/>
<path d="M1080.3 500.5 H1097.9 M1087.1 509.1 H1097.5" stroke="#1a1a1a" stroke-width="1.3" fill="none"/>
</svg></body></html>
